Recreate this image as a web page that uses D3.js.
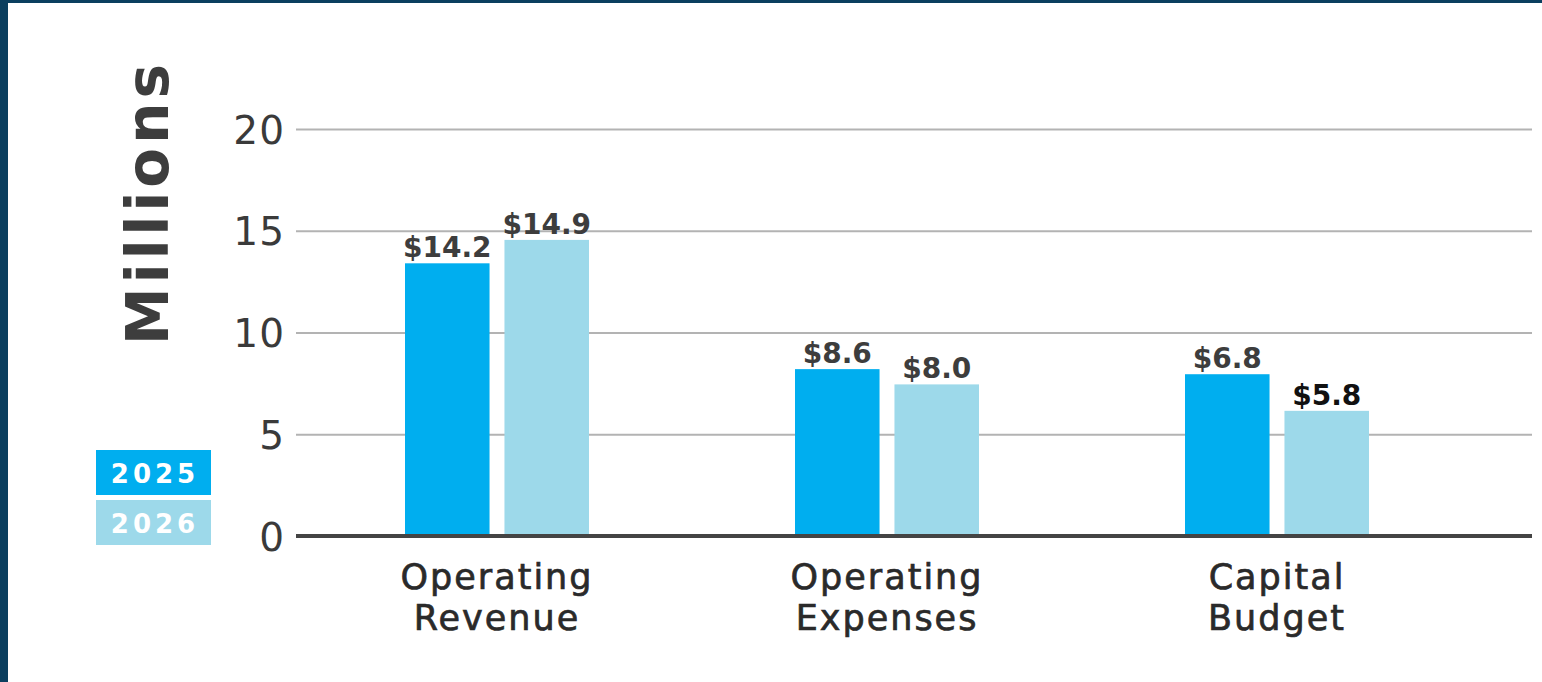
<!DOCTYPE html>
<html>
<head>
<meta charset="utf-8">
<script src="https://cdn.jsdelivr.net/npm/d3@7"></script>
<style>
  html, body { margin: 0; padding: 0; background: #fff; }
  #budget-chart { width: 1542px; height: 682px; }
</style>
</head>
<body>
<div id="budget-chart"></div>
<script>
const categories = ["Operating Revenue", "Operating Expenses", "Capital Budget"];
const series = ["2025", "2026"];
// bar heights as drawn (millions)
const values2025 = [13.4, 8.2, 7.95];
const values2026 = [14.55, 7.45, 6.15];
// printed value labels
const labels2025 = ["$14.2", "$8.6", "$6.8"];
const labels2026 = ["$14.9", "$8.0", "$5.8"];
const yTicks = [0, 5, 10, 15, 20];

const colors = { "2025": "#00aeef", "2026": "#9dd9ea" };
const fontFamily = "'DejaVu Sans', sans-serif";

const W = 1542, H = 682;
const plot = { left: 296, right: 1532, top: 129, bottom: 536 };

const svg = d3.select("#budget-chart")
    .append("svg")
    .attr("width", W)
    .attr("height", H)
    .style("display", "block");

// frame
svg.append("rect").attr("width", W).attr("height", H).attr("fill", "#0b3f5f");
svg.append("rect").attr("x", 8).attr("y", 3).attr("width", W - 8).attr("height", H - 3).attr("fill", "#fff");

const x0 = d3.scaleBand()
    .domain(categories)
    .range([302, 1472])
    .padding(0);

const x1 = d3.scaleBand()
    .domain(series)
    .range([-92, 92])
    .paddingInner(0.15);

const y = d3.scaleLinear()
    .domain([0, 20])
    .range([plot.bottom, plot.top]);

// grid + tick labels
const yAxis = svg.append("g")
    .attr("class", "y-axis")
    .attr("transform", `translate(${plot.left},0)`)
    .call(d3.axisLeft(y)
        .tickValues(yTicks)
        .tickSize(-(plot.right - plot.left))
        .tickPadding(12));

yAxis.select(".domain").remove();
yAxis.selectAll(".tick line")
    .attr("stroke", "#b3b3b3")
    .attr("stroke-width", 2)
    .attr("x1", 0);
yAxis.selectAll(".tick text")
    .attr("x", -11)
    .attr("fill", "#3a3a3a")
    .attr("font-size", "39px")
    .attr("letter-spacing", "1px")
    .attr("font-family", fontFamily)
    .attr("dy", "0.36em");

const rows = categories.map((c, i) => ({
    category: c,
    bars: [
        { key: "2025", value: values2025[i], label: labels2025[i] },
        { key: "2026", value: values2026[i], label: labels2026[i] }
    ]
}));

const groups = svg.selectAll(".bar-group")
    .data(rows)
    .enter()
    .append("g")
    .attr("class", "bar-group")
    .attr("transform", d => `translate(${x0(d.category) + x0.bandwidth() / 2},0)`);

groups.selectAll("rect")
    .data(d => d.bars)
    .enter()
    .append("rect")
    .attr("x", d => x1(d.key))
    .attr("y", d => y(d.value))
    .attr("width", x1.bandwidth())
    .attr("height", d => y(0) - y(d.value))
    .attr("fill", d => colors[d.key]);

groups.selectAll(".value-label")
    .data(d => d.bars)
    .enter()
    .append("text")
    .attr("class", "value-label")
    .attr("x", d => x1(d.key) + x1.bandwidth() / 2)
    .attr("y", d => y(d.value) - 6)
    .attr("text-anchor", "middle")
    .attr("font-family", fontFamily)
    .attr("font-weight", 700)
    .attr("font-size", "28px")
    .attr("fill", d => d.label === "$5.8" ? "#111" : "#3d3d3d")
    .text(d => d.label);

// baseline
svg.append("line")
    .attr("x1", plot.left)
    .attr("x2", plot.right)
    .attr("y1", y(0))
    .attr("y2", y(0))
    .attr("stroke", "#444")
    .attr("stroke-width", 4);

// category labels
const catText = groups.append("text")
    .attr("text-anchor", "middle")
    .attr("font-family", fontFamily)
    .attr("font-size", "35px")
    .attr("letter-spacing", "2px")
    .attr("fill", "#2a2a2a")
    .attr("stroke", "#2a2a2a")
    .attr("stroke-width", 0.7);

catText.selectAll("tspan")
    .data(d => d.category.split(" "))
    .enter()
    .append("tspan")
    .attr("x", 0)
    .attr("y", (d, i) => 589 + i * 41)
    .text(d => d);

// y title
svg.append("text")
    .attr("transform", `translate(168,${(60 + 345) / 2}) rotate(-90)`)
    .attr("text-anchor", "middle")
    .attr("font-family", fontFamily)
    .attr("font-weight", 700)
    .attr("font-size", "58px")
    .attr("letter-spacing", "4px")
    .attr("fill", "#3d3d3d")
    .text("Millions");

// legend
const legend = svg.append("g").attr("class", "legend");
const legendItems = legend.selectAll("g")
    .data(series)
    .enter()
    .append("g")
    .attr("transform", (d, i) => `translate(96,${450 + i * 50})`);

legendItems.append("rect")
    .attr("width", 115)
    .attr("height", 45)
    .attr("fill", d => colors[d]);

legendItems.append("text")
    .attr("x", 59)
    .attr("y", 33)
    .attr("text-anchor", "middle")
    .attr("font-family", fontFamily)
    .attr("font-weight", 700)
    .attr("font-size", "26px")
    .attr("letter-spacing", "4px")
    .attr("fill", "#fff")
    .text(d => d);
</script>
</body>
</html>
